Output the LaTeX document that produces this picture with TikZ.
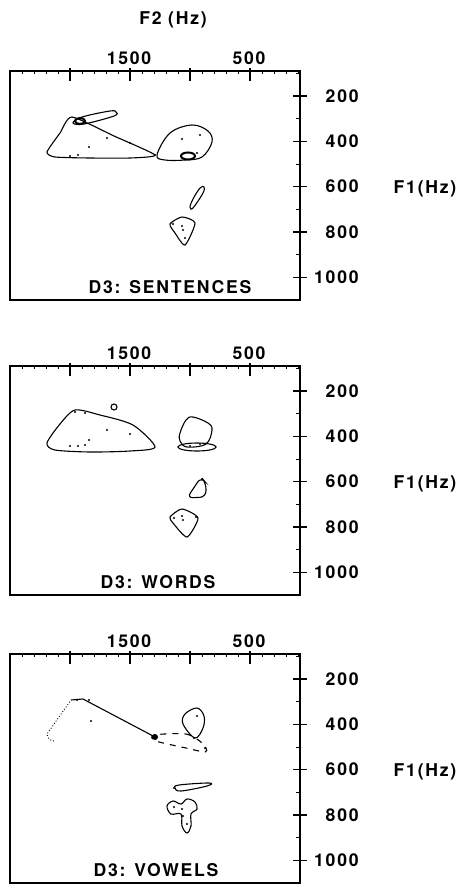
\documentclass[tikz,border=0pt]{standalone}
\usepackage{fontspec}
\setmainfont[LetterSpace=10]{TeX Gyre Heros}
\usetikzlibrary{positioning}

\begin{document}
\begin{tikzpicture}[
		x=0.5pt, y=-0.5pt,
		every node/.style={font=\fontsize{8.8}{10}\selectfont\bfseries, inner sep=1pt},
		frame/.style={draw, line width=1pt},% box round each panel
		tick/.style={line width=0.6pt},
		mtick/.style={line width=0.3pt},
		blob/.style={line width=0.55pt, smooth cycle, tension=0.6},
		dark/.style={line width=1pt},
		]
		\useasboundingbox (0,0) rectangle (461,884);
		\node (f2) at (173,20) {F2 (Hz)};
		% the three panels: frame, ticks, labels
		\foreach \dy/\tx/\ttl [count=\p] in {71/160/SENTENCES,366/148/WORDS,654/146/VOWELS}{
			\begin{scope}[shift={(10,\dy)}]
				\draw[frame] (0,0) rectangle (290,229);
				\foreach \x in {12,24,...,288}
				\draw[mtick] (\x,0) -- (\x,3);
				\foreach \x in {60,120,180,240}
				\draw[tick] (\x,-3) -- (\x,10);
				\foreach \k in {0,...,9}
				\draw[mtick] (290,{2.4+22.65*\k}) -- (286,{2.4+22.65*\k});
				\foreach \f [count=\k from 0] in {200,400,600,800,1000}{
					\draw[tick] (283,{25+45.3*\k}) -- (297,{25+45.3*\k});
					\node[anchor=east] (f1-\p-\f) at (351,{25+45.3*\k}) {\f};
				}
				\node (hz-\p) at (415,118) {F1(Hz)};
				\node (tk1500-\p) at (119,-13) {1500};
				\node (tk500-\p) at (239,-13) {500};
				\node (ttl-\p) at (\tx,216) {D3: \ttl};
			\end{scope}
		}
		% sentences
		\begin{scope}[shift={(10,71)}]
			\draw[blob, tension=0.35] plot coordinates {(62,46) (104,65) (145,84) (120,87) (80,87) (45,86) (37,81) (50,62)};
			\draw[blob] plot coordinates {(63,52) (72,46) (100,40) (106,41) (104,45) (74,53)};
			\draw[dark] (70,50) ellipse (5 and 3);
			\draw[blob] plot coordinates {(147,84) (160,62) (182,54) (198,60) (202,71) (192,86) (175,89) (155,89)};
			\draw[dark] (178,85) ellipse (7 and 3.5);
			\draw[blob] plot coordinates {(180,136) (183,128) (190,117) (194,116) (193,122) (183,137)};
			\draw[blob, tension=0.4] plot coordinates {(160,153) (172,146) (185,152) (175,174) (165,162)};
			\foreach \d in {(97,67),(120,72),(79,76),(60,85),(68,84),(172,68),(190,64),(187,82),(172,155),(173,159),(175,167),(163,153),(145,84)}
			\fill \d circle (1.2);
		\end{scope}
		% words
		\begin{scope}[shift={(10,366)}]
			\draw[blob, tension=0.45] plot coordinates {(65,44) (90,49) (123,59) (145,81) (120,85) (80,86) (45,84) (37,77) (50,58)};
			\draw[blob] (104,41) circle (3);
			\draw[blob] plot coordinates {(170,67) (176,54) (183,51) (198,57) (202,64) (196,78) (177,81) (170,75)};
			\draw[blob] (187,81) ellipse (19 and 4);
			\draw[line width=0.55pt, rounded corners=3] (191,111) -- (196,117) -- (196,131) -- (177,132) -- cycle;
			\draw[blob, tension=0.4] plot coordinates {(160,151) (172,143) (188,152) (177,171) (163,157)};
			\foreach \d in {(65,46),(75,47),(97,64),(120,68),(79,74),(60,80),(68,80),(75,79),(180,80),(190,78),(192,113),(172,150),(173,154),(164,152),(186,151)}
			\fill \d circle (1.2);
		\end{scope}
		% vowels
		\begin{scope}[shift={(11,656)}]
			\draw[line width=0.45pt, densely dotted] (43,85) to[bend left=40] (36,78) -- (60,44);
			\draw[line width=0.55pt] (60,44) -- (72,43) -- (144,81);
			\draw[line width=0.55pt, dashed, smooth cycle, tension=0.5] plot coordinates {(143,79) (175,78) (190,86) (195,92) (194,96) (175,92) (145,85)};
			\draw[blob] plot coordinates {(184,82) (172,68) (174,58) (186,52) (193,60) (192,72)};
			\draw[blob] plot coordinates {(164,132) (168,129) (198,127) (196,130) (170,135)};
			\draw[blob] plot coordinates {(156,150) (162,145) (170,148) (176,143) (184,146) (186,153) (180,158) (180,170) (176,177) (171,170) (170,158) (160,158)};
			\fill (144,81) circle (3);
			\foreach \d in {(66,44),(78,44),(80,65),(183,82),(194,92),(186,60),(163,132),(163,151),(171,153),(172,160),(176,168)}
			\fill \d circle (1.2);
		\end{scope}
	\end{tikzpicture}
\end{document}
